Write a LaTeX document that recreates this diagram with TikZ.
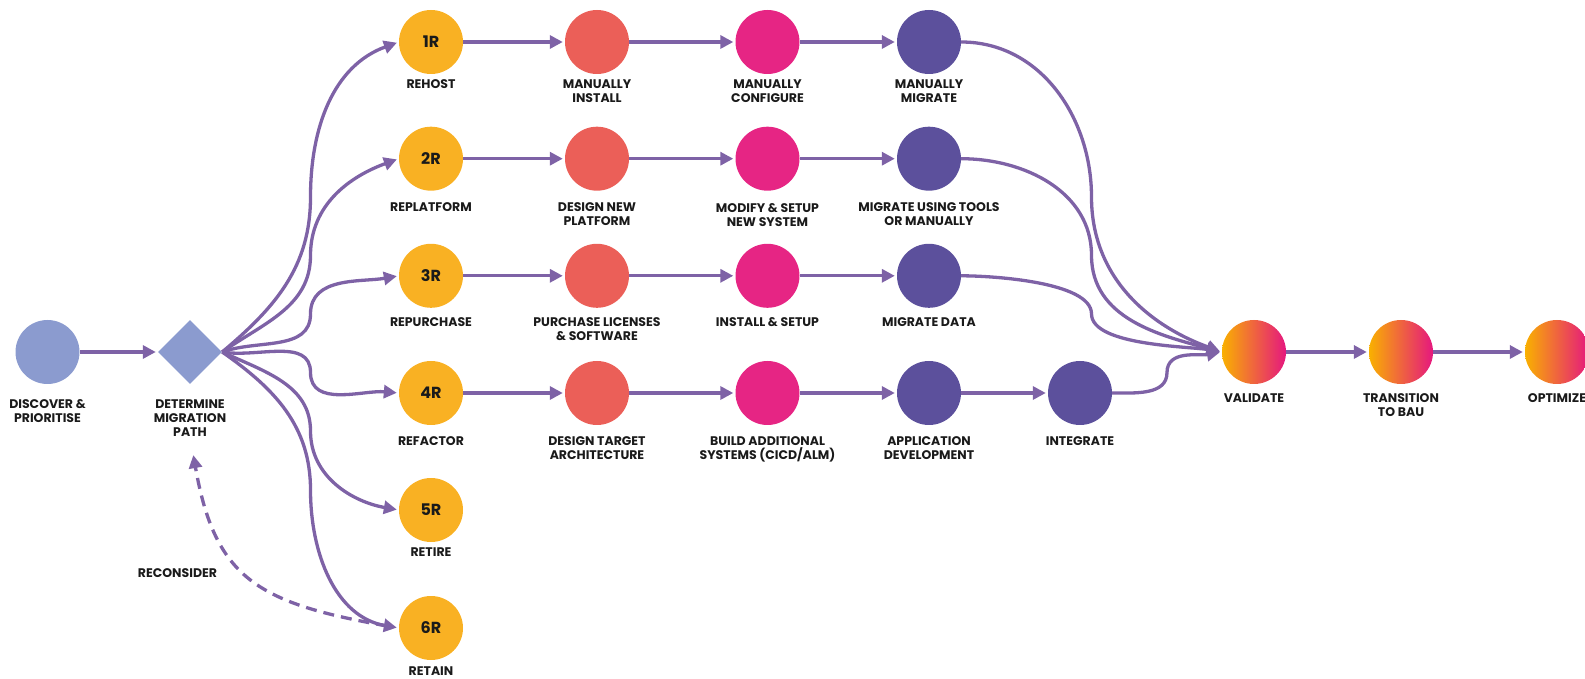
\documentclass[tikz,border=0pt]{standalone}
\usepackage{fontspec}
\setmainfont{Poppins}
\usetikzlibrary{positioning, calc, arrows.meta, shapes.geometric}
\definecolor{flowc}{HTML}{7E62A6}
\definecolor{startc}{HTML}{8B9BCF}
\definecolor{rc}{HTML}{F9B123}
\definecolor{salmonc}{HTML}{EB5F58}
\definecolor{pinkc}{HTML}{E62584}
\definecolor{indigoc}{HTML}{5C509C}
\definecolor{gradl}{HTML}{F9B000}
\definecolor{gradr}{HTML}{E5177F}
\definecolor{txtc}{HTML}{1A1A1A}

\begin{document}
\begin{tikzpicture}[x=1pt, y=1pt,
  dot/.style={circle, minimum size=64pt, inner sep=0pt},
  rdot/.style={dot, fill=rc, text=txtc, font=\fontsize{16}{16}\selectfont\bfseries},
  sdot/.style={dot, fill=salmonc},
  pdot/.style={dot, fill=pinkc},
  idot/.style={dot, fill=indigoc},
  gdot/.style={dot, left color=gradl, right color=gradr},
  lbl/.style={inner sep=0pt, align=center, text=txtc, font=\fontsize{12.5}{14}\selectfont\bfseries},
  flow/.style={draw=flowc, line width=3.3pt, -{Triangle[length=13pt,width=13pt]}, shorten >=2pt}]
\useasboundingbox (0,0) rectangle (1585,678);
% start: discover, then decide the path
\node[dot, fill=startc] (disc) at (47.5,326) {};
\node[diamond, minimum size=64pt, inner sep=0pt, fill=startc] (det) at (190,326) {};
\node[lbl, below=15pt of disc] (disct) {DISCOVER \&\\PRIORITISE};
\node[lbl, below=15pt of det] (dett) {DETERMINE\\MIGRATION\\PATH};
\draw[flow] (disc) -- (det);
% row 1: rehost
\node[rdot] (r1) at (431,636) {1R};
\node[sdot] (a1) at (597,636) {};
\node[pdot] (b1) at (767.5,636) {};
\node[idot] (c1) at (929,636) {};
\node[lbl, below=5pt of r1] (r1t) {REHOST};
\node[lbl, below=5pt of a1] (a1t) {MANUALLY\\INSTALL};
\node[lbl, below=5pt of b1] (b1t) {MANUALLY\\CONFIGURE};
\node[lbl, below=5pt of c1] (c1t) {MANUALLY\\MIGRATE};
\draw[flow] (r1) -- (a1);
\draw[flow] (a1) -- (b1);
\draw[flow] (b1) -- (c1);
% row 2: replatform
\node[rdot] (r2) at (431,519.3) {2R};
\node[sdot] (a2) at (597,519.3) {};
\node[pdot] (b2) at (767.5,519.3) {};
\node[idot] (c2) at (929,519.3) {};
\node[lbl, below=12pt of r2] (r2t) {REPLATFORM};
\node[lbl, below=12pt of a2] (a2t) {DESIGN NEW\\PLATFORM};
\node[lbl, below=12pt of b2] (b2t) {MODIFY \& SETUP\\NEW SYSTEM};
\node[lbl, below=12pt of c2] (c2t) {MIGRATE USING TOOLS\\OR MANUALLY};
\draw[flow] (r2) -- (a2);
\draw[flow] (a2) -- (b2);
\draw[flow] (b2) -- (c2);
% row 3: repurchase
\node[rdot] (r3) at (431,402.2) {3R};
\node[sdot] (a3) at (597,402.2) {};
\node[pdot] (b3) at (767.5,402.2) {};
\node[idot] (c3) at (929,402.2) {};
\node[lbl, below=9pt of r3] (r3t) {REPURCHASE};
\node[lbl, below=9pt of a3] (a3t) {PURCHASE LICENSES\\\& SOFTWARE};
\node[lbl, below=9pt of b3] (b3t) {INSTALL \& SETUP};
\node[lbl, below=9pt of c3] (c3t) {MIGRATE DATA};
\draw[flow] (r3) -- (a3);
\draw[flow] (a3) -- (b3);
\draw[flow] (b3) -- (c3);
% row 4: refactor
\node[rdot] (r4) at (431,285) {4R};
\node[sdot] (a4) at (597,285) {};
\node[pdot] (b4) at (767.5,285) {};
\node[idot] (c4) at (929,285) {};
\node[idot] (intg) at (1080,285) {};
\node[lbl, below=11.5pt of r4] (r4t) {REFACTOR};
\node[lbl, below=11.5pt of a4] (a4t) {DESIGN TARGET\\ARCHITECTURE};
\node[lbl, below=11.5pt of b4] (b4t) {BUILD ADDITIONAL\\SYSTEMS (CICD/ALM)};
\node[lbl, below=11.5pt of c4] (c4t) {APPLICATION\\DEVELOPMENT};
\node[lbl, below=11.5pt of intg] (intgt) {INTEGRATE};
\draw[flow] (r4) -- (a4);
\draw[flow] (a4) -- (b4);
\draw[flow] (b4) -- (c4);
\draw[flow] (c4) -- (intg);
% rows 5 and 6: retire, retain
\node[rdot] (r5) at (431,168) {5R};
\node[rdot] (r6) at (431,50) {6R};
\node[lbl, below=5pt of r5] (r5t) {RETIRE};
\node[lbl, below=6pt of r6] (r6t) {RETAIN};
% end: validate, hand over, optimize
\node[gdot] (val) at (1254,326) {};
\node[gdot] (trans) at (1401,326) {};
\node[gdot] (opt) at (1557,326) {};
\node[lbl, below=9pt of val] (valt) {VALIDATE};
\node[lbl, below=9pt of trans] (transt) {TRANSITION\\TO BAU};
\node[lbl, below=9pt of opt] (optt) {OPTIMIZE};
\draw[flow] (val) -- (trans);
\draw[flow] (trans) -- (opt);
% fan out from the decision
\draw[flow] (det.east) to[out=40,in=-90] ($(det.east)!.5!(r1.west)$) to[out=90,in=200] (r1.west);
\draw[flow] (det.east) to[out=35,in=-90] ($(det.east)!.5!(r2.west)$) to[out=90,in=200] (r2.west);
\draw[flow] (det.east) to[out=20,in=-90] ($(det.east)!.5!(r3.west)$) to[out=90,in=190] (r3.west);
\draw[flow] (det.east) to[out=-10,in=90] ($(det.east)!.5!(r4.west)$) to[out=-90,in=175] (r4.west);
\draw[flow] (det.east) to[out=-25,in=90] ($(det.east)!.5!(r5.west)$) to[out=-90,in=170] (r5.west);
\draw[flow] (det.east) to[out=-35,in=90] ($(det.east)!.5!(r6.west)$) to[out=-90,in=170] (r6.west);
% merge into validate
\draw[flow] (c1.east) to[out=0,in=90] ($(c1.east)!.5!(val.west)$) to[out=-90,in=160] (val.west);
\draw[flow] (c2.east) to[out=0,in=90] ($(c2.east)!.5!(val.west)$) to[out=-90,in=165] (val.west);
\draw[flow, looseness=.6] (c3.east) to[out=0,in=90] ($(c3.east)!.5!(val.west)$) to[out=-90,in=170] (val.west);
\draw[flow] (intg.east) to[out=0,in=-90] ($(intg.east)!.5!(val.west)$) to[out=90,in=190] (val.west);
% going back
\node[lbl] (recon) at (177.5,105) {RECONSIDER};
\draw[flow, dash pattern=on 11pt off 7pt, shorten <=12pt, shorten >=19pt, looseness=1.3] (r6.west) to[out=170,in=-80] (dett.south);
\end{tikzpicture}
\end{document}
